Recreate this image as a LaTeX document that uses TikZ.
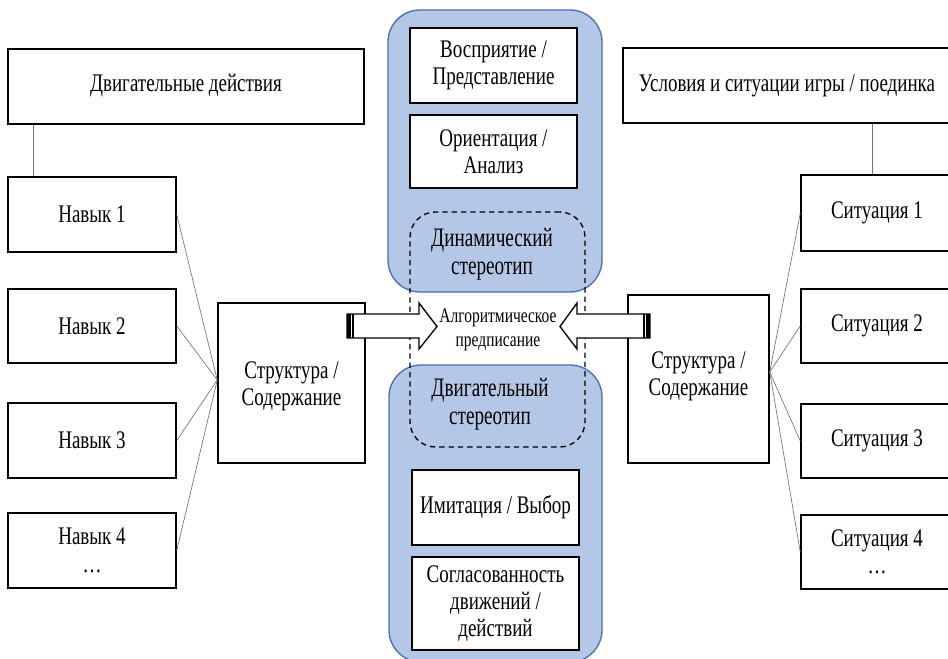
\documentclass[tikz,border=0pt]{standalone}
\usepackage{fontspec}
\setmainfont{Liberation Serif}[FakeStretch=0.75]
\newfontfamily\bigfam{Liberation Serif}[FakeStretch=0.72]
\usetikzlibrary{fit,calc}
\definecolor{bluefill}{HTML}{B4C7E7}
\definecolor{blueline}{HTML}{4A6EB0}
\begin{document}
\begin{tikzpicture}[x=0.75pt,y=-0.75pt,
  box/.style={draw=black,line width=1.1pt,fill=white,inner sep=0pt},
  txt/.style={align=center,inner sep=0pt,font=\fontsize{19}{20.5}\selectfont},
  blob/.style={draw=blueline,line width=1pt,fill=bluefill,rounded corners=24pt,inner sep=0pt},
  dashbox/.style={draw=black,line width=1pt,dash pattern=on 4pt off 3pt,rounded corners=19pt,inner sep=0pt},
  conn/.style={draw=black!55,line width=0.5pt},
  bigtxt/.style={align=center,inner sep=0pt,font=\bigfam\fontsize{20}{21}\selectfont},
  smalltxt/.style={align=center,inner sep=0pt,font=\fontsize{15.5}{17.5}\selectfont},
  blockarrow/.style={draw=black,line width=1pt,fill=white,line join=miter}
]
\useasboundingbox (0,0) rectangle (948,659);
\clip (0,0) rectangle (948,659);

% blue containers
\node[blob, fit={(388,10) (602,292)}] (topblob) {};
\node[blob, fit={(389,365) (602,662)}] (botblob) {};

% inner boxes
\node[box, fit={(410,28) (577,103)}] (v1) {};
\node[box, fit={(410,115) (577,188)}] (v2) {};
\node[box, fit={(412,470) (579,545)}] (b1) {};
\node[box, fit={(412,557) (579,650)}] (b2) {};
\node[txt] (v1t) at (v1.center) {Восприятие /\\Представление};
\node[txt] (v2t) at (v2.center) {Ориентация /\\Анализ};
\node[txt] (b1t) at (b1.center) {Имитация / Выбор};
\node[txt] (b2t) at (b2.center) {Согласованность\\движений /\\действий};

% dashed overlap
\node[dashbox, fit={(410,212) (585,447)}] (dash) {};
\node[bigtxt] (dyn) at (492,254) {Динамический\\стереотип};
\node[bigtxt] (mot) at (490,404) {Двигательный\\стереотип};

% left side
\node[box, fit={(8,49) (364,124)}] (dd) {};
\node[box, fit={(8,177) (176,252)}] (n1) {};
\node[box, fit={(8,289) (176,363)}] (n2) {};
\node[box, fit={(8,403) (176,478)}] (n3) {};
\node[box, fit={(8,513) (176,588)}] (n4) {};
\node[box, fit={(218,303) (365,463)}] (sl) {};
\node[txt] (ddt) at (186,86) {Двигательные действия};
\node[txt] (n1t) at (n1.center) {Навык 1};
\node[txt] (n2t) at (n2.center) {Навык 2};
\node[txt] (n3t) at (n3.center) {Навык 3};
\node[txt] (n4t) at (n4.center) {Навык 4\\…};
\node[txt] (slt) at ($(sl.center)+(0,3)$) {Структура /\\Содержание};

% right side
\node[box, fit={(623,48) (953,123)}] (us) {};
\node[box, fit={(801,175) (953,251)}] (s1) {};
\node[box, fit={(801,289) (953,363)}] (s2) {};
\node[box, fit={(801,404) (953,478)}] (s3) {};
\node[box, fit={(801,515) (953,589)}] (s4) {};
\node[box, fit={(628,295) (769,463)}] (sr) {};
\node[txt] (ust) at (787,86) {Условия и ситуации игры / поединка};
\node[txt] (s1t) at (877,213) {Ситуация 1};
\node[txt] (s2t) at (877,326) {Ситуация 2};
\node[txt] (s3t) at (877,441) {Ситуация 3};
\node[txt] (s4t) at (877,552) {Ситуация 4\\…};
\node[txt] (srt) at ($(sr.center)+(0,-3)$) {Структура /\\Содержание};

% connectors
\draw[conn] ($(dd.south west)+(26,0)$) -- ($(n1.north west)+(26,0)$);
\draw[conn] ($(us.south west)+(250,0)$) -- ($(s1.north west)+(72,0)$);
\coordinate (lj) at ($(sl.west)+(0,-3)$);
\coordinate (rj) at ($(sr.east)+(0,-7)$);
\foreach \n in {n1,n2,n3,n4} \draw[conn] (\n.east) -- (lj);
\foreach \s in {s1,s2,s3,s4} \draw[conn] (\s.west) -- (rj);

% block arrows
\draw[blockarrow] (347,314) -- (419,314) -- (419,303) -- (437,326.5) -- (419,349) -- (419,338) -- (347,338) -- cycle;
\fill[black] (347,314) rectangle (351,338);
\draw[black,line width=0.8pt] (353,314) -- (353,338);
\draw[blockarrow] (650,314) -- (577,314) -- (577,303) -- (560,326.5) -- (577,349) -- (577,338) -- (650,338) -- cycle;
\fill[black] (646,314) rectangle (650,338);
\draw[black,line width=0.8pt] (644,314) -- (644,338);
\node[smalltxt] (alg) at (498,330) {Алгоритмическое\\предписание};
\end{tikzpicture}
\end{document}
